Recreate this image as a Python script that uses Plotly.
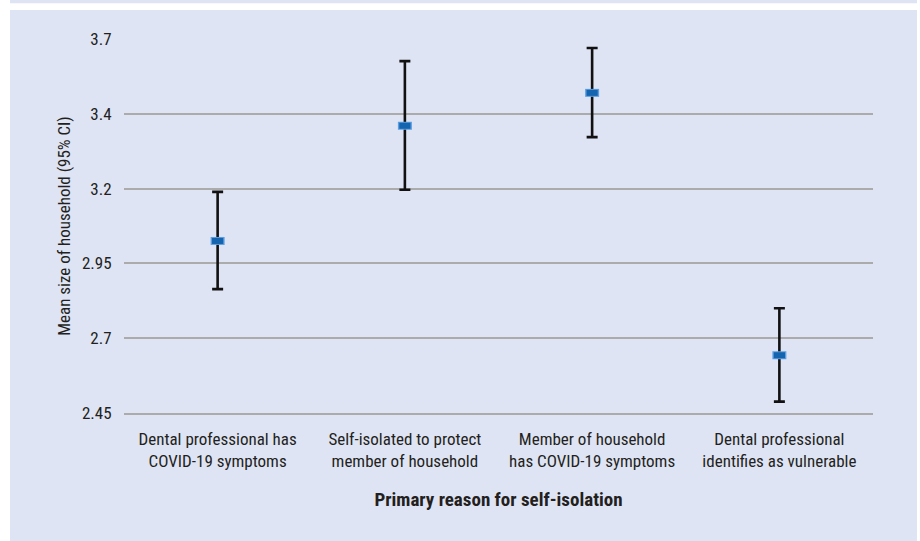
import plotly.graph_objects as go

categories = [
    "Dental professional has<br>COVID-19 symptoms",
    "Self-isolated to protect<br>member of household",
    "Member of household<br>has COVID-19 symptoms",
    "Dental professional<br>identifies as vulnerable",
]
means = [3.025, 3.41, 3.52, 2.643]
upper = [3.189, 3.626, 3.67, 2.80]
lower = [2.864, 3.196, 3.372, 2.488]
tick_vals = [2.45, 2.7, 2.95, 3.2, 3.45, 3.7]
tick_text = ["2.45", "2.7", "2.95", "3.2", "3.4", "3.7"]

err_plus = [u - m for u, m in zip(upper, means)]
err_minus = [m - l for m, l in zip(means, lower)]

W, H = 920, 541
ML, MR, MT, MB = 124, 47, 39, 128
pw, ph = W - ML - MR, H - MT - MB

def px_x(x):
    return (x - ML) / pw

def px_y(y):
    return (H - MB - y) / ph

FONT = "Liberation Sans Narrow, Arial Narrow, Roboto Condensed, sans-serif"
LAV = "#dfe4f4"

fig = go.Figure()
fig.add_trace(go.Scatter(
    x=categories, y=means, mode="markers",
    marker=dict(size=1, color="rgba(0,0,0,0)"),
    error_y=dict(type="data", symmetric=False, array=err_plus, arrayminus=err_minus,
                 color="#111111", thickness=2.6, width=5.5),
    showlegend=False, hoverinfo="skip",
))
fig.add_trace(go.Scatter(
    x=categories, y=means, mode="markers",
    marker=dict(symbol="line-ew", size=10, line=dict(width=8, color="#5d9ee0")),
    showlegend=False, hoverinfo="skip",
))
fig.add_trace(go.Scatter(
    x=categories, y=means, mode="markers",
    marker=dict(symbol="line-ew", size=8, line=dict(width=6, color="#1464b0")),
    showlegend=False,
))

fig.add_shape(type="rect", xref="paper", yref="paper", layer="below",
              x0=px_x(10), x1=px_x(917), y0=px_y(541), y1=px_y(10),
              fillcolor=LAV, line=dict(width=0))
fig.add_shape(type="rect", xref="paper", yref="paper", layer="below",
              x0=px_x(10), x1=px_x(917), y0=px_y(3.3), y1=px_y(0),
              fillcolor=LAV, line=dict(width=0))

fig.update_layout(
    width=W, height=H,
    margin=dict(l=ML, r=MR, t=MT, b=MB),
    paper_bgcolor="white", plot_bgcolor=LAV,
    font=dict(family=FONT, size=17, color="#231f20"),
    xaxis=dict(
        type="category", showgrid=False, zeroline=False,
        showline=True, linecolor="#ababab", linewidth=1.5,
        ticks="outside", ticklen=10, tickcolor="rgba(0,0,0,0)",
        tickfont=dict(size=17),
        title=dict(text="<b>Primary reason for self-isolation</b>", font=dict(size=19), standoff=22),
        range=[-0.5, 3.5],
    ),
    yaxis=dict(
        range=[2.45, 3.7], tickvals=tick_vals, ticktext=tick_text,
        showgrid=True, gridcolor="#ababab", gridwidth=1.5, zeroline=False,
        ticks="outside", ticklen=8, tickcolor="rgba(0,0,0,0)",
        tickfont=dict(size=17),
        title=dict(text="Mean size of household (95% CI)", font=dict(size=17), standoff=6),
    ),
)

fig.write_html("out.html", config={"displayModeBar": False},
               post_script="document.body.style.margin='0';")
